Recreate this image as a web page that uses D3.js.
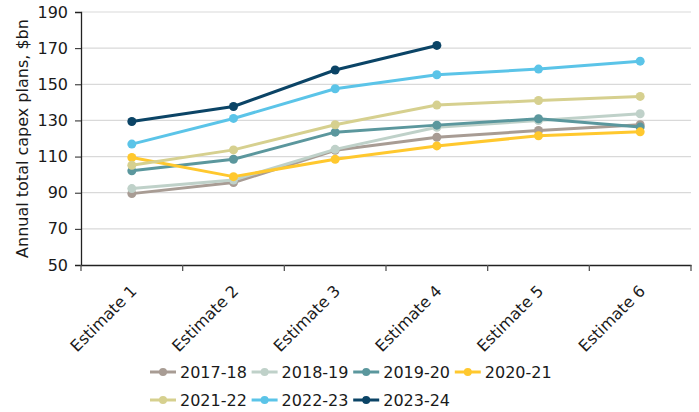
<!DOCTYPE html>
<html><head><meta charset="utf-8">
<script src="https://cdn.jsdelivr.net/npm/d3@7"></script>
<style>body{margin:0;background:#fff}svg{display:block}text{font-family:"DejaVu Sans",Verdana,sans-serif;fill:#1a1a1a}</style>
</head><body><svg id="c" width="699" height="412"></svg>
<script>
const categories = ["Estimate 1","Estimate 2","Estimate 3","Estimate 4","Estimate 5","Estimate 6"];
const seriesNames = ["2017-18","2018-19","2019-20","2020-21","2021-22","2022-23","2023-24"];
const seriesColors = ["#a89c94","#bfd1c9","#5b979d","#ffc82e","#d6d08f","#5bc4e8","#0b4466"];
const v2017 = [89.5, 95.6, 113.5, 120.7, 124.4, 127.6];
const v2018 = [92.3, 97.0, 114.0, 126.2, 129.9, 133.7];
const v2019 = [102.1, 108.5, 123.5, 127.4, 130.9, 126.3];
const v2020 = [109.5, 98.9, 108.5, 115.9, 121.5, 123.7];
const v2021 = [105.2, 113.7, 127.6, 138.5, 141.0, 143.3];
const v2022 = [116.9, 131.1, 147.5, 155.3, 158.4, 162.8];
const v2023 = [129.4, 137.7, 157.9, 171.5];
const yTicks = [50,70,90,110,130,150,170,190];
const yTitle = "Annual total capex plans, $bn";
const allValues = [v2017,v2018,v2019,v2020,v2021,v2022,v2023];

const svg = d3.select("#c");
const m = {l:81, r:8, t:12, b:147};
const W = 699, H = 412;
const x = d3.scaleBand().domain(categories).range([m.l, W - m.r]);
const y = d3.scaleLinear().domain([50,190]).range([H - m.b, m.t]);

// grid
svg.append("g").selectAll("line").data(yTicks.slice(1)).join("line")
  .attr("x1", m.l).attr("x2", W - m.r)
  .attr("y1", d => y(d)).attr("y2", d => y(d))
  .attr("stroke", "#d9d9d9").attr("stroke-width", 1.2);

// y axis
const ya = svg.append("g").attr("transform", `translate(${m.l},0)`)
  .call(d3.axisLeft(y).tickValues(yTicks).tickSize(6).tickPadding(7));
ya.select(".domain").attr("stroke", "#222").attr("stroke-width", 1.3);
ya.selectAll(".tick line").attr("stroke", "#222");
ya.selectAll("text").style("font-size", "16px").attr("fill", "#1a1a1a");

// x axis
const xa = svg.append("g").attr("transform", `translate(0,${y(50)})`)
  .call(d3.axisBottom(x).tickSize(0).tickFormat(""));
xa.select(".domain").attr("stroke", "#222").attr("stroke-width", 1.3);
const bounds = categories.map(c => x(c)).concat([x(categories[categories.length-1]) + x.bandwidth()]);
xa.selectAll("line.bt").data(bounds).join("line").attr("class","bt")
  .attr("x1", d => d).attr("x2", d => d).attr("y1", 0).attr("y2", 6)
  .attr("stroke", "#555").attr("stroke-width", 1.3);
xa.selectAll("text.xl").data(categories).join("text").attr("class","xl")
  .attr("transform", d => `translate(${x(d) + x.bandwidth()/2 + 2},${23}) rotate(-45)`)
  .attr("text-anchor", "end").attr("dy", "0.35em")
  .style("font-size", "16px").text(d => d);

// y title
svg.append("text").attr("transform", `translate(22,${(y(50)+y(190))/2}) rotate(-90)`)
  .attr("text-anchor", "middle").attr("dy", "0.35em").style("font-size", "16px").text(yTitle);

// lines
const line = d3.line().x((d,i) => x(categories[i]) + x.bandwidth()/2).y(d => y(d));
allValues.forEach((vals, k) => {
  const g = svg.append("g");
  g.append("path").datum(vals).attr("d", line).attr("fill", "none")
    .attr("stroke", seriesColors[k]).attr("stroke-width", 3).attr("stroke-linejoin", "round");
  g.selectAll("circle").data(vals).join("circle")
    .attr("cx", (d,i) => x(categories[i]) + x.bandwidth()/2).attr("cy", d => y(d))
    .attr("r", 4.5).attr("fill", seriesColors[k]);
});

// legend
const leg = svg.append("g");
seriesNames.forEach((n, k) => {
  const row = Math.floor(k / 4), col = k % 4;
  const lx = 150 + col * 101.6, ly = 372 + row * 28;
  const g = leg.append("g").attr("transform", `translate(${lx},${ly})`);
  g.append("line").attr("x1", 0).attr("x2", 26).attr("y1", 0).attr("y2", 0)
    .attr("stroke", seriesColors[k]).attr("stroke-width", 3);
  g.append("circle").attr("cx", 13).attr("cy", 0).attr("r", 4).attr("fill", seriesColors[k]);
  g.append("text").attr("x", 30).attr("dy", "0.35em").style("font-size", "16px").text(n);
});
</script></body></html>
